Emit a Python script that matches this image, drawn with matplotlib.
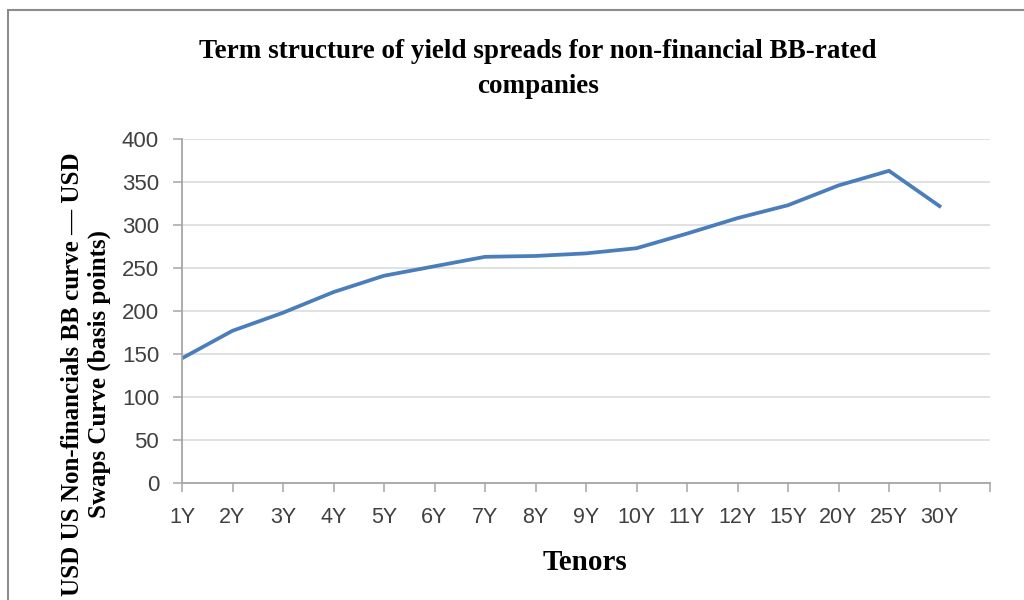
import matplotlib
matplotlib.use("Agg")
import matplotlib.pyplot as plt
from matplotlib.patches import Rectangle

tenors = ["1Y", "2Y", "3Y", "4Y", "5Y", "6Y", "7Y", "8Y",
          "9Y", "10Y", "11Y", "12Y", "15Y", "20Y", "25Y", "30Y"]
spread_bp = [145, 177, 198, 222, 241, 252, 263, 264,
             267, 273, 290, 308, 323, 346, 363, 322]
y_ticks = [0, 50, 100, 150, 200, 250, 300, 350, 400]

title = "Term structure of yield spreads for non-financial BB-rated\ncompanies"
y_label = "USD US Non-financials BB curve \u2014 USD\nSwaps Curve (basis points)"
x_label = "Tenors"

serif = ["Liberation Serif", "DejaVu Serif"]
sans = ["Liberation Sans", "DejaVu Sans"]
tick_color = "#404040"
grid_color = "#d9d9d9"
axis_color = "#a6a6a6"

fig = plt.figure(figsize=(10.24, 6.0), dpi=100)
fig.patches.append(Rectangle((8 / 1024, -0.1), 1.2, 1 - 10 / 600 + 0.1,
                             transform=fig.transFigure, fill=False,
                             edgecolor="#8c8c8c", linewidth=1.5))

ax = fig.add_axes([182 / 1024, 1 - 483 / 600, 808 / 1024, 344 / 600])
x = list(range(len(tenors)))
ax.plot(x, spread_bp, color="#4a7ebb", linewidth=2.7, solid_joinstyle="miter")

ax.set_xlim(0, len(tenors))
ax.set_ylim(0, 400)
ax.set_yticks(y_ticks)
ax.set_xticks(list(range(len(tenors) + 1)))
ax.set_xticklabels(tenors + [""], family=sans, fontsize=15.5, color=tick_color)
for lab in ax.get_yticklabels():
    lab.set_fontsize(16)
    lab.set_color(tick_color)
    lab.set_family(sans)

ax.grid(axis="y", color=grid_color, linewidth=1.1)
ax.set_axisbelow(True)
for side in ("top", "right"):
    ax.spines[side].set_visible(False)
for side in ("left", "bottom"):
    ax.spines[side].set_color(axis_color)
    ax.spines[side].set_linewidth(1.3)
ax.tick_params(axis="y", direction="out", length=6.5, width=1.1, color=axis_color, pad=10)
ax.tick_params(axis="x", direction="out", length=6.5, width=1.1, color=axis_color, pad=11)

fig.text(538 / 1024, 1 - 69 / 600, title, ha="center", va="center",
         family=serif, fontweight="bold", fontsize=19.5, linespacing=1.55)
fig.text(585 / 1024, 1 - 562 / 600, x_label, ha="center", va="center",
         family=serif, fontweight="bold", fontsize=21)
fig.text(86 / 1024, 1 - 374 / 600, y_label, ha="center", va="center",
         rotation=90, multialignment="center",
         family=serif, fontweight="bold", fontsize=18, linespacing=1.25)

fig.savefig("out.png", dpi=100)
